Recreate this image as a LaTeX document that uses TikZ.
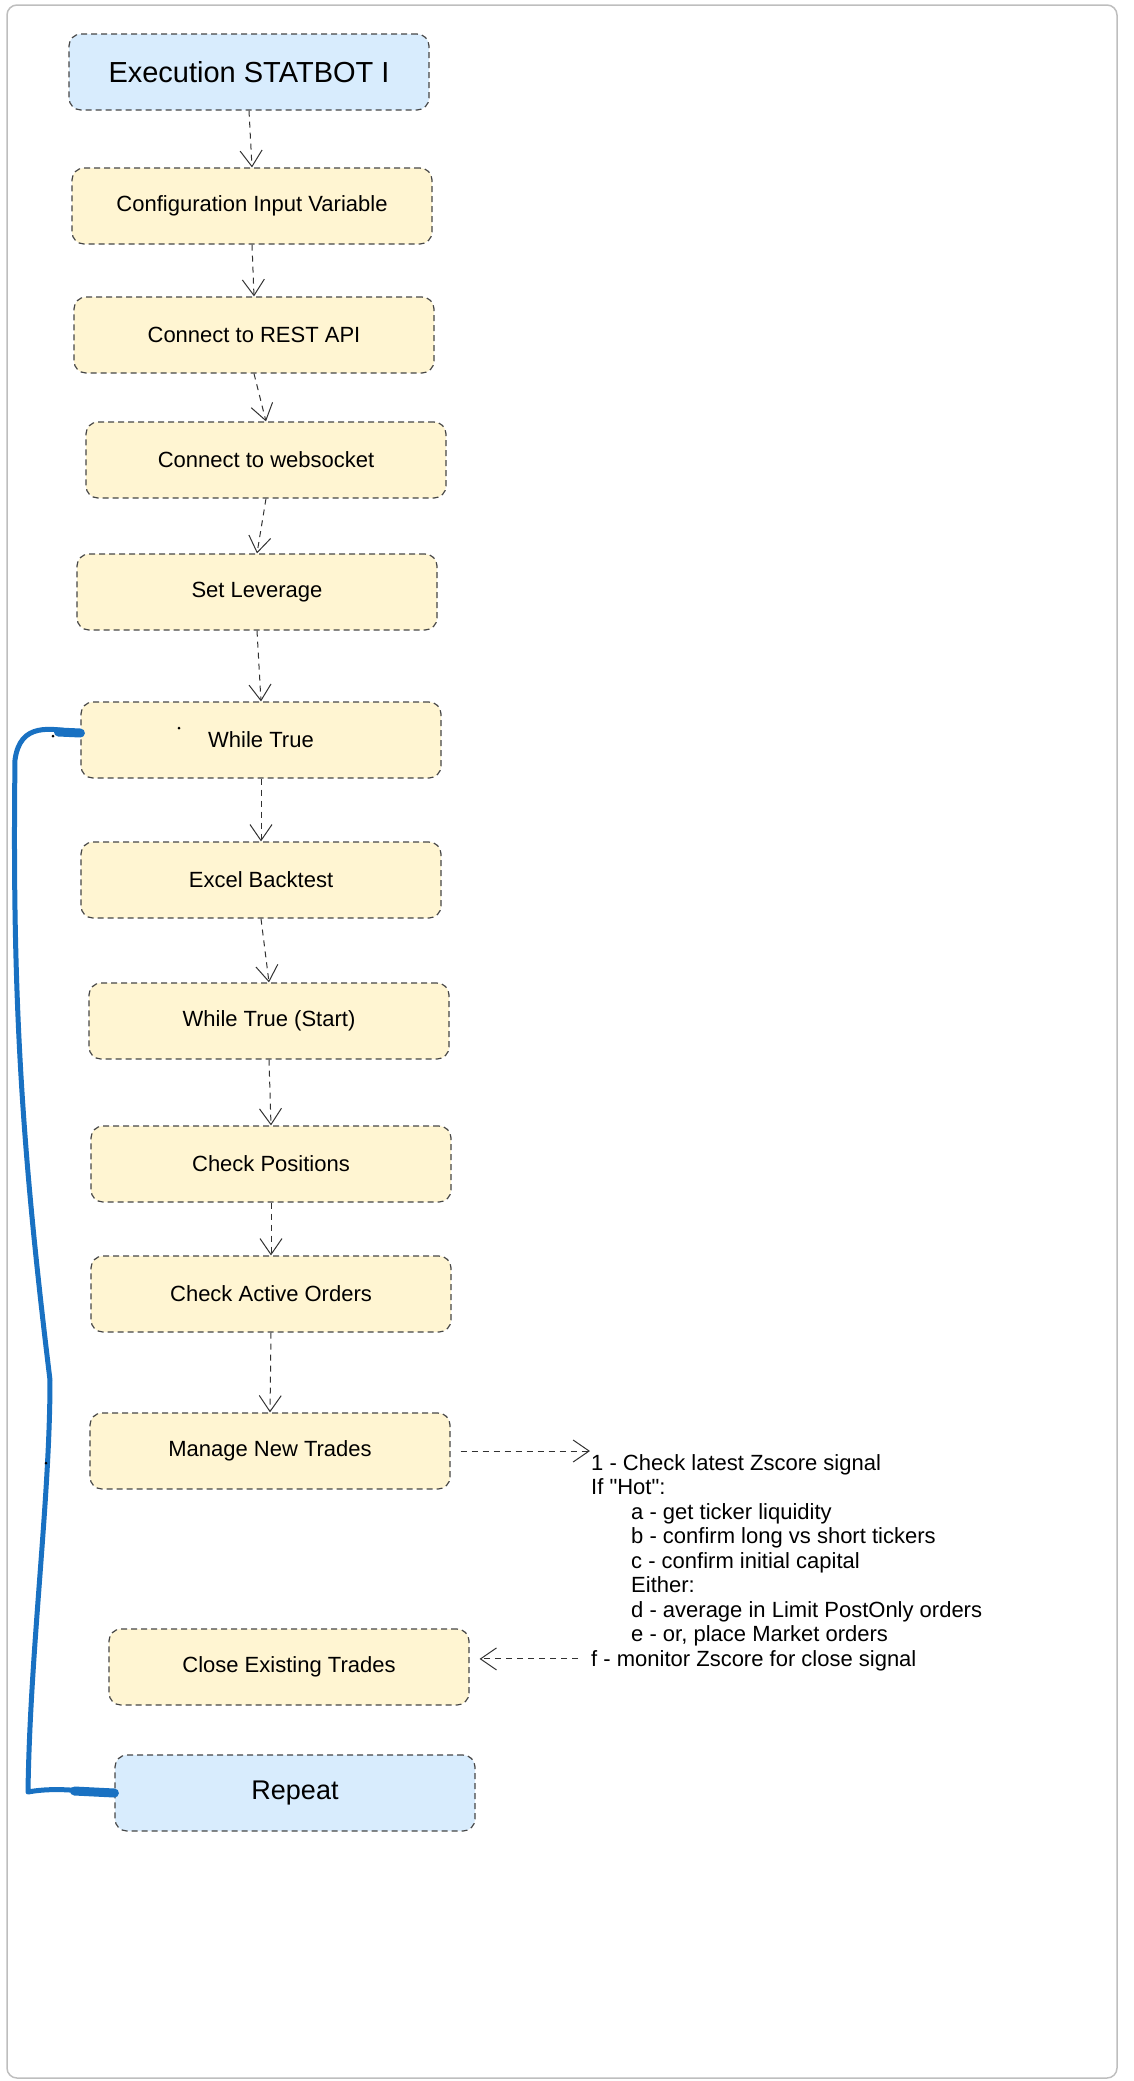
\documentclass[tikz,border=0pt]{standalone}
\usepackage{fontspec}
\setmainfont{Liberation Sans}[Ligatures=TeXOff]
\usepackage{xcolor}
\usetikzlibrary{arrows.meta}

\definecolor{yellowfill}{RGB}{255,245,210}
\definecolor{bluefill}{RGB}{216,236,253}
\definecolor{boxline}{RGB}{70,70,70}
\definecolor{arrowline}{RGB}{50,50,50}
\definecolor{loopblue}{RGB}{25,113,194}
\definecolor{framegray}{RGB}{190,190,190}

\begin{document}
\begin{tikzpicture}[x=1pt,y=-1pt,
  stepbox/.style={draw=boxline,fill=yellowfill,line width=1.2pt,dash pattern=on 6pt off 4pt,
    rounded corners=12pt,minimum width=360pt,minimum height=76pt,
    font=\fontsize{22}{26}\selectfont},
  endbox/.style={stepbox,fill=bluefill,font=\fontsize{29}{33}\selectfont},
  conn/.style={draw=arrowline,line width=1pt,dash pattern=on 6pt off 5pt,
    -{Straight Barb[length=16pt,width=22pt,line width=1pt]}},
  notes/.style={align=left,inner sep=0pt,font=\fontsize{22}{24.5}\selectfont},
  loopline/.style={draw=loopblue,line width=5pt,line cap=round,line join=round}]
  \useasboundingbox (0,0) rectangle (1134,2081);

  % Frame
  \draw[framegray,line width=1.5pt,rounded corners=10pt] (7,5) rectangle (1117,2078);

  % Steps
  \node[endbox] (exec) at (249,72) {Execution STATBOT I};
  \node[stepbox] (config) at (252,206) {Configuration Input Variable};
  \node[stepbox] (rest) at (254,335) {Connect to REST API};
  \node[stepbox] (socket) at (266,460) {Connect to websocket};
  \node[stepbox] (leverage) at (257,592) {Set Leverage};
  \node[stepbox] (whiletrue) at (261,740) {While True};
  \node[stepbox] (excel) at (261,880) {Excel Backtest};
  \node[stepbox] (whilestart) at (269,1021) {While True (Start)};
  \node[stepbox] (positions) at (271,1164) {Check Positions};
  \node[stepbox] (orders) at (271,1294) {Check Active Orders};
  \node[stepbox] (manage) at (270,1451) {Manage New Trades};
  \node[stepbox] (close) at (289,1667) {Close Existing Trades};
  \node[endbox,font=\fontsize{27}{31}\selectfont] (repeat) at (295,1793) {Repeat};

  % Notes
  \node[notes,anchor=north west] (notes) at (591,1454) {1 - Check latest Zscore signal\\
    If "Hot":\\
    \hspace*{40pt}a - get ticker liquidity\\
    \hspace*{40pt}b - confirm long vs short tickers\\
    \hspace*{40pt}c - confirm initial capital\\
    \hspace*{40pt}Either:\\
    \hspace*{40pt}d - average in Limit PostOnly orders\\
    \hspace*{40pt}e - or, place Market orders\\
    f - monitor Zscore for close signal};
  \coordinate (fstart) at ([xshift=-13pt,yshift=12pt]notes.south west);

  % Flow
  \draw[conn] (exec.south) -- (config.north);
  \draw[conn] (config.south) -- (rest.north);
  \draw[conn] (rest.south) -- (socket.north);
  \draw[conn] (socket.south) -- (leverage.north);
  \draw[conn] (leverage.south) -- (whiletrue.north);
  \draw[conn] (whiletrue.south) -- (excel.north);
  \draw[conn] (excel.south) -- (whilestart.north);
  \draw[conn] (whilestart.south) -- (positions.north);
  \draw[conn] (positions.south) -- (orders.north);
  \draw[conn] (orders.south) -- (manage.north);
  \draw[conn] ([xshift=10pt]manage.east) -- ([xshift=-1pt]manage.east -| notes.west);
  \draw[conn] (fstart) -- ([xshift=10pt]fstart -| close.east);

  % Loop back
  \draw[loopline] ([yshift=7pt]whiletrue.west) .. controls (50,728) and (20,722) .. (15,760)
    .. controls (12,1000) and (22,1150) .. (50,1380)
    .. controls (50,1500) and (30,1650) .. (28,1792)
    .. controls (60,1786) and (90,1793) .. (repeat.west);
  \draw[loopline,line width=9pt] ([yshift=7pt]whiletrue.west) -- ++(-22,-1);
  \draw[loopline,line width=9pt] (repeat.west) -- ++(-40,-2);

  % Specks
  \fill (179,728) circle (1.5pt);
  \fill (53,736) circle (1.5pt);
  \fill (46,1463) circle (1.5pt);
\end{tikzpicture}
\end{document}
